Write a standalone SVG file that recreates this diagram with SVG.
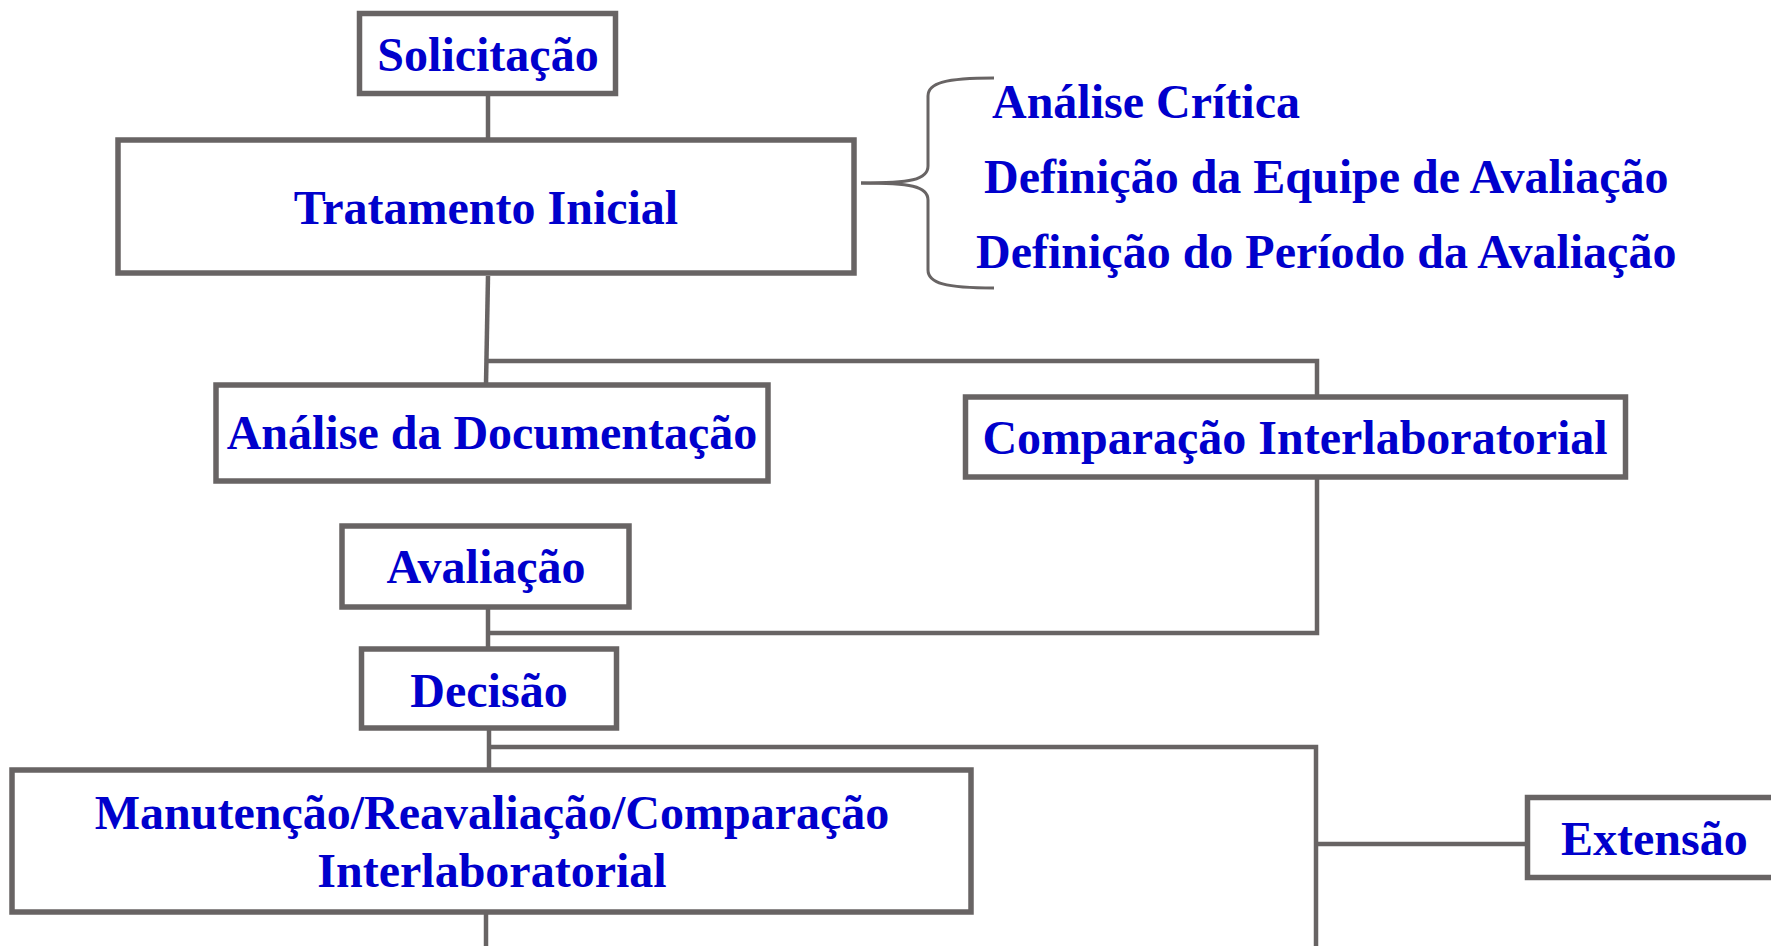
<svg xmlns="http://www.w3.org/2000/svg" width="1771" height="946" viewBox="0 0 1771 946">
<style>
.box{fill:#ffffff;stroke:#686464;stroke-width:5.5}
.ln{fill:none;stroke:#686464;stroke-width:4.5}
.br{fill:none;stroke:#686464;stroke-width:3}
.t{font-family:"Liberation Serif","Times New Roman",serif;font-weight:bold;font-size:48px;fill:#0000CC}
.m{text-anchor:middle}
</style>
<rect width="1771" height="946" fill="#ffffff"/>
<g id="connectors">
<path class="ln" d="M488 95 V140"/>
<path class="ln" d="M488 276 L486 384"/>
<path class="ln" d="M486 361 H1317 V397"/>
<path class="ln" d="M1317 478 V633 H488"/>
<path class="ln" d="M488 608 V648"/>
<path class="ln" d="M489 730 V769"/>
<path class="ln" d="M489 747 H1316 V946"/>
<path class="ln" d="M1314 844 H1527"/>
<path class="ln" d="M486 913 V946"/>
<path class="br" d="M861 183 C910 183 928 180 928 166 L928 96 C928 83 945 78 994 78"/>
<path class="br" d="M861 183 C910 183 928 186 928 200 L928 270 C928 283 945 288 994 288"/>
</g>
<g id="solicitacao">
<rect class="box" x="359.5" y="13.5" width="256" height="80"/>
<text class="t m" x="488" y="71">Solicitação</text>
</g>
<g id="tratamento">
<rect class="box" x="118" y="140" width="736" height="133"/>
<text class="t m" x="486" y="224">Tratamento Inicial</text>
</g>
<g id="subitens">
<text class="t" x="992" y="118">Análise Crítica</text>
<text class="t" x="984" y="193">Definição da Equipe de Avaliação</text>
<text class="t" x="976" y="268">Definição do Período da Avaliação</text>
</g>
<g id="analise-doc">
<rect class="box" x="216" y="385" width="552" height="96"/>
<text class="t m" x="492" y="449">Análise da Documentação</text>
</g>
<g id="comparacao">
<rect class="box" x="965.5" y="397" width="660" height="80"/>
<text class="t m" x="1295" y="454">Comparação Interlaboratorial</text>
</g>
<g id="avaliacao">
<rect class="box" x="342" y="526" width="287" height="81"/>
<text class="t m" x="486" y="583">Avaliação</text>
</g>
<g id="decisao">
<rect class="box" x="361.5" y="649" width="255" height="79"/>
<text class="t m" x="489" y="707">Decisão</text>
</g>
<g id="manutencao">
<rect class="box" x="12" y="770" width="959" height="142"/>
<text class="t m" x="492" y="829">Manutenção/Reavaliação/Comparação</text>
<text class="t m" x="492" y="887">Interlaboratorial</text>
</g>
<g id="extensao">
<rect class="box" x="1527.5" y="797.5" width="260" height="80"/>
<text class="t" x="1561" y="855">Extensão</text>
</g>
</svg>
